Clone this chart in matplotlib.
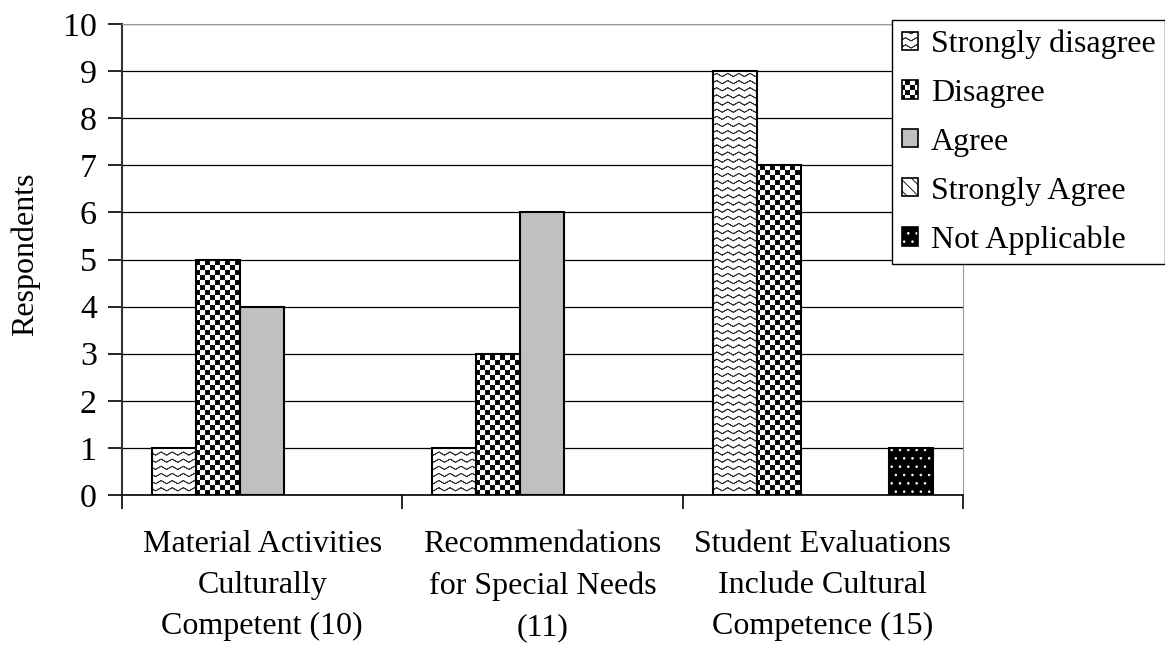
import warnings
import numpy as np
import matplotlib
matplotlib.use("Agg")
import matplotlib.pyplot as plt
import matplotlib.hatch as mhatch
from matplotlib.path import Path
from matplotlib.patches import Patch

warnings.filterwarnings("ignore")

# data
categories = ["Material Activities\nCulturally\nCompetent (10)",
              "Recommendations\nfor Special Needs\n(11)",
              "Student Evaluations\nInclude Cultural\nCompetence (15)"]
series = ["Strongly disagree", "Disagree", "Agree", "Strongly Agree", "Not Applicable"]
strongly_disagree = [1, 1, 9]
disagree = [5, 3, 7]
agree = [4, 6, 0]
strongly_agree = [0, 0, 0]
not_applicable = [0, 0, 1]

HATCH_LW = 0.6  # points


# extra hatch patterns: 'c' checkerboard, 'z' wavy lines
class CheckerHatch:
    def __init__(self, hatch, density):
        self.n = 20 if 'c' in hatch else 0
        self.num_vertices = (self.n * self.n // 2) * 5

    def set_vertices_and_codes(self, vertices, codes):
        s = 1.0 / self.n
        d = HATCH_LW / 72 / 2  # shrink so the stroke does not grow the squares
        k = 0
        for i in range(self.n):
            for j in range(self.n):
                if (i + j) % 2:
                    continue
                x0, y0 = i * s + d, j * s + d
                x1, y1 = (i + 1) * s - d, (j + 1) * s - d
                vertices[k:k + 5] = [(x0, y0), (x1, y0), (x1, y1), (x0, y1), (x0, y0)]
                codes[k:k + 5] = [Path.MOVETO, Path.LINETO, Path.LINETO,
                                  Path.LINETO, Path.CLOSEPOLY]
                k += 5


class WaveHatch:
    def __init__(self, hatch, density):
        self.rows = 14 if 'z' in hatch else 0
        self.per = 9
        self.npts = 2 * self.per + 1
        self.num_vertices = self.rows * (2 * self.npts - 1)

    def set_vertices_and_codes(self, vertices, codes):
        npts = self.npts
        xs = np.linspace(0, 1, npts)
        amp = 0.016
        k = 0
        for r in range(self.rows):
            y0 = (r + 0.5) / self.rows
            ys = y0 + np.where(np.arange(npts) % 2, amp, -amp)
            pts = np.column_stack([xs, ys])
            # forward and back so the fill has no area
            path = np.vstack([pts, pts[-2::-1]])
            m = len(path)
            vertices[k:k + m] = path
            codes[k] = Path.MOVETO
            codes[k + 1:k + m] = Path.LINETO
            k += m


mhatch._hatch_types.append(CheckerHatch)
mhatch._hatch_types.append(WaveHatch)

plt.rcParams['font.family'] = ['Liberation Serif', 'DejaVu Serif']
plt.rcParams['hatch.linewidth'] = HATCH_LW

fig = plt.figure(figsize=(11.65, 6.46), dpi=100)
ax = fig.add_axes([0.1047, 0.2337, 0.7219, 0.7291])

x = np.arange(len(categories))
w = 0.157
values = [strongly_disagree, disagree, agree, strongly_agree, not_applicable]
# (facecolor, hatch, hatch colour)
styles = [("white", "z", "#333333"),
          ("white", "c", "black"),
          ("#c0c0c0", None, "black"),
          ("white", "\\\\\\", "black"),
          ("black", "..", "white")]

handles = []
for i, (vals, (fc, htch, hc)) in enumerate(zip(values, styles)):
    vals = np.array(vals)
    keep = vals > 0
    pos = (x + (i - 2) * w)[keep]
    ax.bar(pos, vals[keep], w, color=fc, edgecolor=hc, linewidth=0, hatch=htch, zorder=2)
    ax.bar(pos, vals[keep], w, color="none", edgecolor="black", linewidth=1.5, zorder=3)
    handles.append((Patch(facecolor=fc, edgecolor=hc, linewidth=0, hatch=htch),
                    Patch(facecolor="none", edgecolor="black", linewidth=1.2)))

ax.set_ylim(0, 10)
ax.set_xlim(-0.5, 2.5)
ax.set_yticks(range(0, 11))
ax.yaxis.grid(True, color="black", linewidth=0.9)
ax.set_axisbelow(True)

ax.set_xticks(x)
ax.set_xticklabels(categories, fontsize=23, linespacing=1.55)
ax.tick_params(axis="x", length=0, pad=25)
ax.set_xticks([-0.5, 0.5, 1.5, 2.5], minor=True)
ax.tick_params(axis="x", which="minor", length=10, width=1.2, direction="out")
ax.tick_params(axis="y", labelsize=24.5, length=10, width=1.2, pad=8)

ax.spines["top"].set_color("#999999")
ax.spines["right"].set_color("#999999")
ax.spines["left"].set_color("#333333")
ax.spines["left"].set_linewidth(1.5)
ax.spines["bottom"].set_linewidth(1.2)

ax.set_ylabel("Respondents", fontsize=23)
ax.yaxis.set_label_coords(-0.097, 0.512)

leg = fig.legend(handles, series, loc="upper left",
                 bbox_to_anchor=(892 / 1165, 1 - 20 / 646),
                 fontsize=23, frameon=True, fancybox=False, framealpha=1,
                 edgecolor="black", handlelength=0.5, handleheight=0.5,
                 handletextpad=0.42, labelspacing=0.62, borderpad=0.3,
                 borderaxespad=0)
leg.get_frame().set_linewidth(1.0)

fig.savefig("out.png", dpi=100)
